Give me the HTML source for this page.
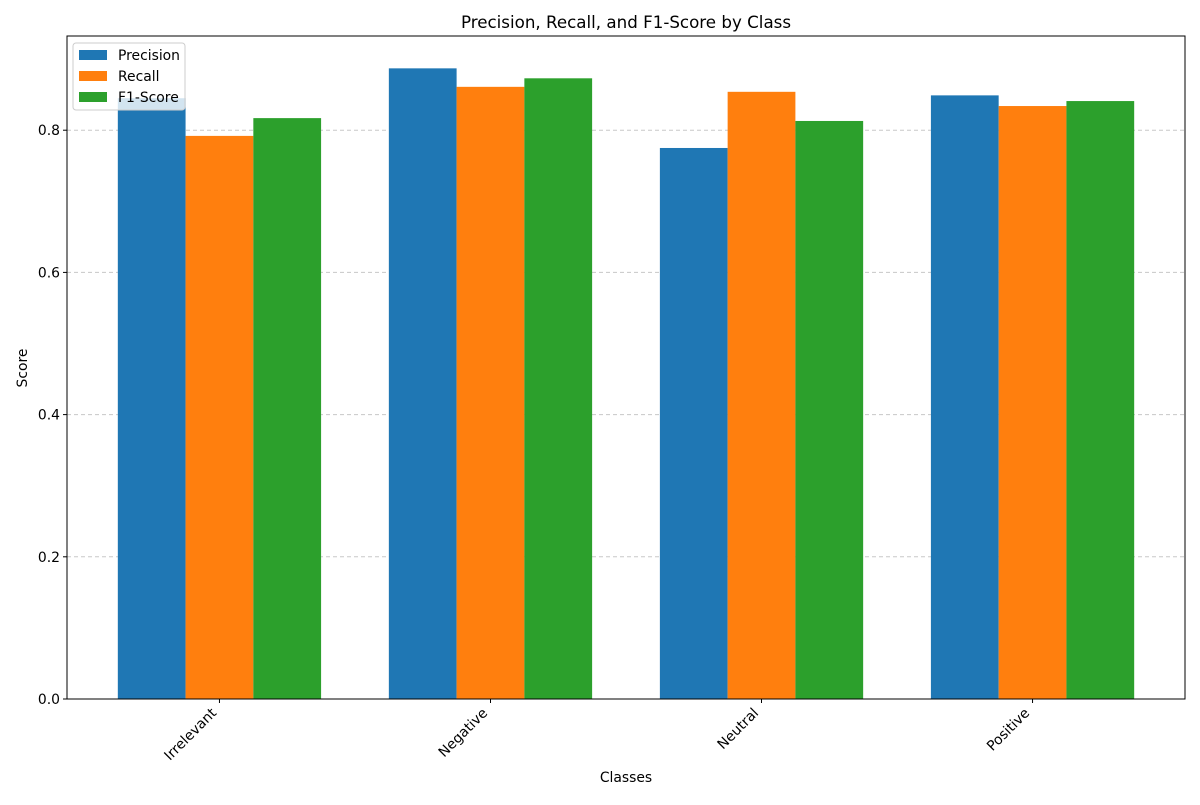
<!DOCTYPE html>
<html><head><meta charset="utf-8"><style>
body{margin:0;background:#fff}
svg{font-family:"DejaVu Sans","Liberation Sans",sans-serif}
</style></head><body>
<svg width="1200" height="800" viewBox="0 0 1200 800">
<rect width="1200" height="800" fill="#fff"/>
<text x="626" y="28" text-anchor="middle" font-size="16.7">Precision, Recall, and F1-Score by Class</text>
<g id="grid"></g>
<g id="bars"></g>
<rect x="67" y="36" width="1118" height="663" fill="none" stroke="#000" stroke-width="1"/>
<g id="axes"></g>
<text x="626" y="782" text-anchor="middle" font-size="13.9">Classes</text>
<text transform="translate(27,368) rotate(-90)" text-anchor="middle" font-size="13.9">Score</text>
<g id="legend"></g>
</svg>
<script>
const categories=["Irrelevant","Negative","Neutral","Positive"];
const precision=[0.845,0.887,0.775,0.849];
const recall=[0.792,0.861,0.854,0.834];
const f1=[0.817,0.873,0.813,0.841];
const seriesNames=["Precision","Recall","F1-Score"];
const yTicks=[0,0.2,0.4,0.6,0.8];
const yTickLabels=["0.0","0.2","0.4","0.6","0.8"];
const colors=["#1f77b4","#ff7f0e","#2ca02c"];
const NS="http://www.w3.org/2000/svg";
const L=67,R=1185,T=36,B=699;
const ymax=0.9325;
const y=v=>B-v/ymax*(B-T);
const bw=0.25;
const xmin=-1.5*bw-0.05*(categories.length-1+3*bw), xmax=categories.length-1+1.5*bw+0.05*(categories.length-1+3*bw);
const x=v=>L+(v-xmin)/(xmax-xmin)*(R-L);
function mk(tag,attrs,parent){const e=document.createElementNS(NS,tag);for(const k in attrs)e.setAttribute(k,attrs[k]);parent.appendChild(e);return e;}
const grid=document.getElementById('grid'),bars=document.getElementById('bars'),axes=document.getElementById('axes'),leg=document.getElementById('legend');
yTicks.forEach((t,i)=>{
 const yy=y(t);
 if(t>0){const g=mk('line',{x1:L,x2:R,y1:yy,y2:yy,stroke:'#c8c8c8','stroke-dasharray':'4,3','stroke-width':1},grid);
 
 }
 const tk=mk('line',{x1:L-4,x2:L,y1:yy,y2:yy,stroke:'#000'},axes);
 
 
 const tl=mk('text',{x:L-7,y:yy+5,'text-anchor':'end','font-size':13.9},axes);
 tl.textContent=yTickLabels[i];
 
 
});
const series=[precision,recall,f1];
series.forEach((s,si)=>{
 s.forEach((v,ci)=>{
  const cx=ci+(si-1)*bw;
  const r=mk('rect',{x:x(cx-bw/2),y:y(v),width:x(cx+bw/2)-x(cx-bw/2),height:B-y(v),fill:colors[si]},bars);
  
  
 });
});
categories.forEach((c,ci)=>{
 const xx=x(ci);
 const tk=mk('line',{x1:xx,x2:xx,y1:B,y2:B+4,stroke:'#000'},axes);
 
 
 const tl=mk('text',{transform:`translate(${xx-9},${B+8}) rotate(-45)`,'text-anchor':'end','font-size':13.9,'dominant-baseline':'hanging'},axes);
 tl.textContent=c;
 
 
});
const lb=mk('rect',{x:73,y:43,width:112,height:67,rx:3,fill:'#fff','fill-opacity':0.8,stroke:'#ccc'},leg);


seriesNames.forEach((n,i)=>{
 const yy=55+i*21;
 const p=mk('rect',{x:79,y:yy-5,width:28,height:10,fill:colors[i]},leg);
 
 
 const t=mk('text',{x:118,y:yy+5,'font-size':13.9},leg);
 t.textContent=n;
 
 
});
</script>
</body></html>
